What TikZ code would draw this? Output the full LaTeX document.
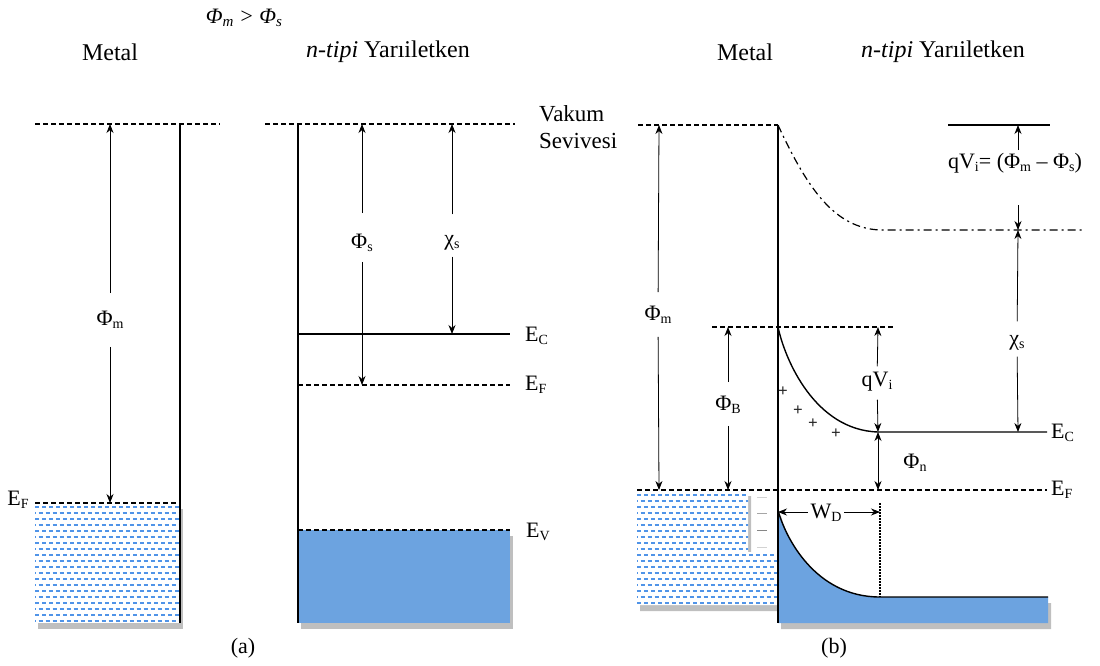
\documentclass[tikz,border=0pt]{standalone}
\usepackage{fontspec}
\setmainfont{Liberation Serif}
\usetikzlibrary{arrows.meta}
\definecolor{semib}{RGB}{108,163,224}
\definecolor{metb}{RGB}{80,148,232}
\newcommand{\sbx}[1]{\raisebox{-0.3ex}{\fontsize{14}{14}\selectfont #1}}
\newcommand{\sbt}[1]{\raisebox{-0.3ex}{\fontsize{15}{15}\selectfont #1}}
\begin{document}
\begin{tikzpicture}[x=1pt,y=-1pt,
  lbl/.style={font=\fontsize{22}{26}\selectfont, inner sep=1pt},
  ttl/.style={font=\fontsize{24}{28}\selectfont, inner sep=0pt},
  band/.style={line width=1.8pt},
  lvl/.style={line width=1.3pt, dash pattern=on 5pt off 3pt},
  dashdot/.style={line width=1.2pt, dash pattern=on 8pt off 4pt on 2pt off 4pt},
  dim/.style={line width=0.8pt, -{Stealth[length=9pt,width=7pt]}},
  ddim/.style={line width=0.8pt, {Stealth[length=9pt,width=7pt]}-{Stealth[length=9pt,width=7pt]}},
  shadow/.style={fill=black, opacity=0.25},
  plus/.style={font=\fontsize{17}{17}\selectfont\bfseries, text=black!85, inner sep=0pt},
  minus/.style={line width=1pt},
  mdash/.style={draw=metb, line width=1.1pt, dash pattern=on 4pt off 3pt}
]
\useasboundingbox (0,0) rectangle (1100,665);

% ---------------- titles ----------------
\node[font=\fontsize{22}{26}\selectfont\itshape, inner sep=0pt] (cond) at (244,18) {Φ\sbt{m} > Φ\sbt{s}};
\node[ttl] (tMa) at (110,52) {Metal};
\node[ttl] (tSa) at (388,52) {\textit{n-tipi} Yarıiletken};
\node[ttl] (tMb) at (745,52) {Metal};
\node[ttl] (tSb) at (943,52) {\textit{n-tipi} Yarıiletken};
\node[font=\fontsize{22}{26}\selectfont] (capa) at (243,648) {(a)};
\node[font=\fontsize{22}{26}\selectfont] (capb) at (834,648) {(b)};

% ================= panel (a) =================
% metal filling
\fill[shadow] (38,509) rectangle (183,629);
\fill[white] (35,503) rectangle (180,623);
\begin{scope}
\clip (35,503) rectangle (180,623);
\foreach \i [evaluate=\i as \ph using {mod(\i,2)*3.5}] in {0,...,19}
  \draw[mdash, dash phase=\ph pt] (35,507+\i*6) -- (180,507+\i*6);
\end{scope}
% semiconductor filling
\fill[shadow] (301,536) rectangle (513,629);
\fill[semib] (298,530) rectangle (510,623);

% levels
\coordinate (aMvL) at (35,124);
\coordinate (aMvR) at (220,124);
\draw[lvl] (aMvL) -- (aMvR);
\draw[band] (180,124) -- (180,623);
\draw[lvl] (35,503) -- (180,503);
\node[lbl] (aEFm) at (18,500) {E\sbx{F}};

\draw[lvl] (265,124) -- (515,124);
\draw[band] (298,124) -- (298,623);
\draw[line width=1.4pt] (298,334) -- (510,334);
\draw[lvl] (298,385) -- (510,385);
\draw[lvl] (298,530) -- (510,530);
\node[font=\fontsize{23}{27}\selectfont, anchor=west, inner sep=0pt] (vak) at (539,114) {Vakum};
\node[font=\fontsize{23}{27}\selectfont, anchor=west, inner sep=0pt] (sev) at (539,141) {Sevivesi};
\node[lbl, anchor=west] (aEC) at (524,336) {E\sbx{C}};
\node[lbl, anchor=west] (aEF) at (524,385) {E\sbx{F}};
\node[lbl, anchor=west] (aEV) at (525,532) {E\sbx{V}};

% dimension arrows (a)
\node[lbl] (aPhm) at (110,320) {Φ\sbx{m}};
\coordinate (aPhmT) at (110,124);
\coordinate (aPhmB) at (110,503);
\draw[dim, shorten <=17pt] (aPhm) -- (aPhmT);
\draw[dim, shorten <=17pt] (aPhm) -- (aPhmB);

\node[lbl] (aPhs) at (362,243) {Φ\sbx{s}};
\coordinate (aPhsT) at (362,124);
\coordinate (aPhsB) at (362,385);
\draw[dim, shorten <=20pt] (aPhs) -- (aPhsT);
\draw[dim, shorten <=9pt] (aPhs) -- (aPhsB);

\node[lbl] (aChi) at (452,243) {χ\sbx{s}};
\coordinate (aChiT) at (452,124);
\coordinate (aChiB) at (452,334);
\draw[dim, shorten <=20pt] (aChi) -- (aChiT);
\draw[dim, shorten <=5pt] (aChi) -- (aChiB);

% ================= panel (b) =================
% metal filling
\fill[shadow] (640,496) -- (751,496) -- (751,558) -- (781,558) -- (781,611) -- (640,611) -- cycle;
\fill[white] (637,490) -- (748,490) -- (748,552) -- (778,552) -- (778,605) -- (637,605) -- cycle;
\begin{scope}
\clip (637,490) -- (748,490) -- (748,552) -- (778,552) -- (778,605) -- (637,605) -- cycle;
\foreach \i [evaluate=\i as \ph using {mod(\i,2)*3.5}] in {0,...,18}
  \draw[mdash, dash phase=\ph pt] (637,495+\i*6) -- (778,495+\i*6);
\end{scope}
% semiconductor valence filling
\fill[shadow] (781,516) .. controls (788,543) and (818,600) .. (883,603) -- (1051,603) -- (1051,629) -- (781,629) -- cycle;
\fill[semib] (778,510) .. controls (785,537) and (815,597) .. (880,597) -- (1048,597) -- (1048,623) -- (778,623) -- cycle;
\draw[line width=1.4pt] (778,510) .. controls (785,537) and (815,597) .. (880,597) -- (1048,597);

% levels
\draw[lvl] (638,125) -- (778,125);
\draw[band] (778,125) -- (778,623);
\draw[dashdot] (778,125) .. controls (808,190) and (835,228) .. (880,230) -- (1082,230);
\draw[line width=1.4pt] (948,125) -- (1050,125);
\draw[lvl] (712,327) -- (893,327);
\draw[line width=1.4pt] (778,327) .. controls (785,360) and (815,430) .. (878,432) -- (1047,432);
\draw[lvl] (637,490) -- (1047,490);
\node[lbl, anchor=west] (bEC) at (1050,433) {E\sbx{C}};
\node[lbl, anchor=west] (bEF) at (1050,490) {E\sbx{F}};

% charges
\node[plus] (p1) at (783,392) {+};
\node[plus] (p2) at (798,411) {+};
\node[plus] (p3) at (813,424) {+};
\node[plus] (p4) at (836,434) {+};
\draw[minus, gray!35] (757,497) -- (767,497);
\draw[minus, gray!70] (757,513) -- (767,513);
\draw[minus, gray!95] (757,530) -- (767,530);
\draw[minus, gray!35] (757,547) -- (767,547);

% depletion width
\draw[line width=1.1pt, dash pattern=on 1.5pt off 1.5pt] (880,503) -- (880,597);
\coordinate (wL) at (778,512);
\coordinate (wR) at (880,512);
\draw[ddim] (wL) -- (wR);
\node[lbl, fill=white, inner xsep=3pt] (wd) at (826,513) {W\sbx{D}};

% dimension arrows (b)
\node[lbl] (bPhm) at (658,315) {Φ\sbx{m}};
\coordinate (bPhmT) at (659,125);
\coordinate (bPhmB) at (659,490);
\draw[dim, shorten <=13pt] (bPhm) -- (bPhmT);
\draw[dim, shorten <=12pt] (bPhm) -- (bPhmB);

\node[lbl] (bPhB) at (728,405) {Φ\sbx{B}};
\coordinate (bPhBT) at (728,327);
\coordinate (bPhBB) at (728,490);
\draw[dim, shorten <=13pt] (bPhB) -- (bPhBT);
\draw[dim, shorten <=11pt] (bPhB) -- (bPhBB);

\node[lbl] (bqV) at (877,382) {qV\sbx{i}};
\coordinate (bqVT) at (878,327);
\coordinate (bqVB) at (878,432);
\draw[dim, shorten <=5pt] (bqV) -- (bqVT);
\draw[dim, shorten <=7pt] (bqV) -- (bqVB);

\node[lbl] (bPhn) at (915,463) {Φ\sbx{n}};
\coordinate (bPhnT) at (878,432);
\coordinate (bPhnB) at (878,490);
\draw[ddim] (bPhnT) -- (bPhnB);

\node[lbl] (bqVi) at (1015,163) {qV\sbx{i}= (Φ\sbx{m} – Φ\sbx{s})};
\coordinate (qT) at (1018,125);
\coordinate (qB) at (1018,230);
\coordinate (q1) at (1018,150);
\coordinate (q2) at (1018,205);
\draw[dim] (q1) -- (qT);
\draw[dim] (q2) -- (qB);

\node[lbl] (bChi) at (1017,343) {χ\sbx{s}};
\coordinate (cT) at (1018,230);
\coordinate (cB) at (1018,432);
\draw[dim, shorten <=13pt] (bChi) -- (cT);
\draw[dim, shorten <=5pt] (bChi) -- (cB);
\end{tikzpicture}
\end{document}
